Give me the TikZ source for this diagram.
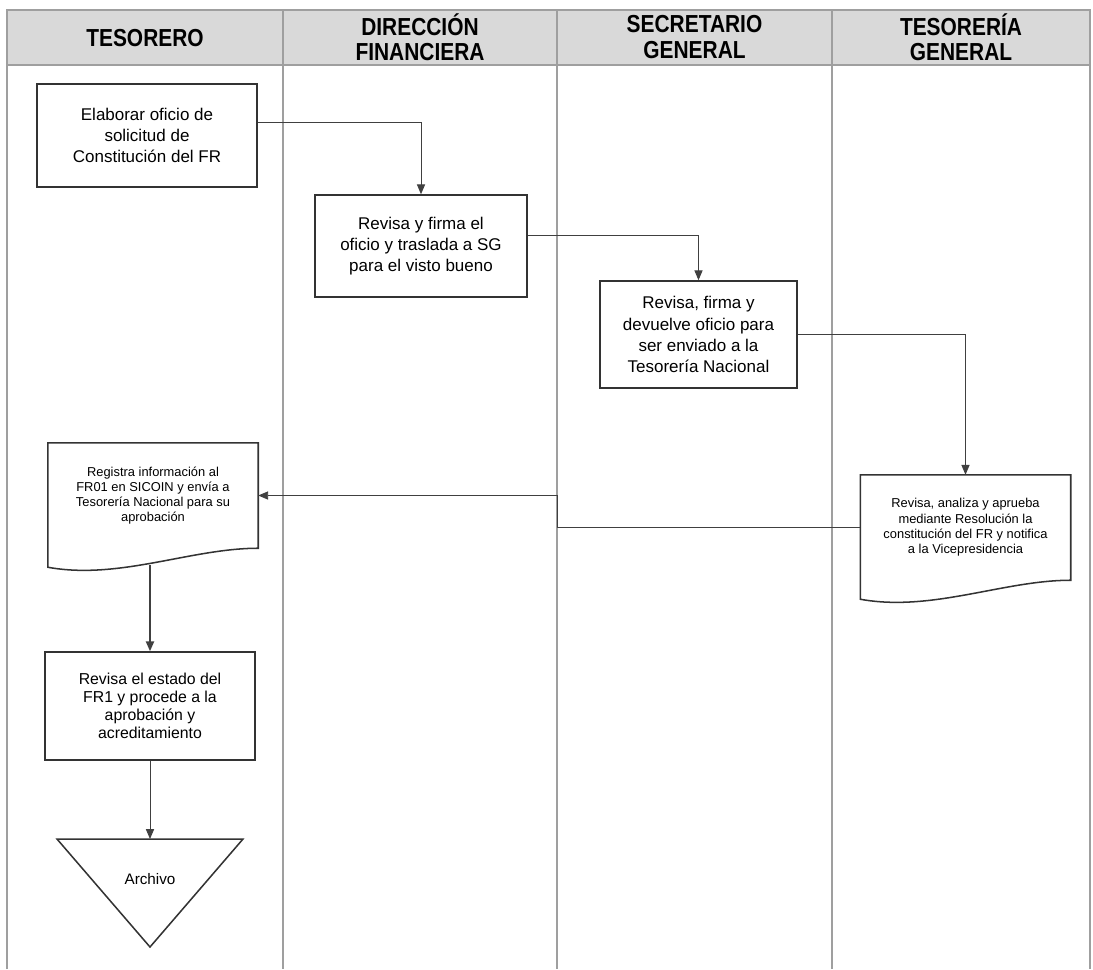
\documentclass[tikz,border=0pt]{standalone}
\usepackage{fontspec}
\setmainfont{Liberation Sans}
\newfontfamily\lanefont[FakeStretch=0.85]{Liberation Sans}
\usetikzlibrary{arrows.meta,calc}

\newcommand\docoutline[1]{\draw[draw=black!80,line width=1.3pt] (#1.north west) -- (#1.north east) -- (#1.south east)
    .. controls ($(#1.south east)!0.32!(#1.south west)$) and ($(#1.south east)!0.66!(#1.south west)+(0,32)$) .. ($(#1.south west)+(0,19)$) -- cycle;}

\begin{document}
\begin{tikzpicture}
    [x=0.03cm,y=-0.03cm,
    lane/.style={draw=gray!75,line width=1pt},
    lanehead/.style={font=\lanefont\bfseries\fontsize{21}{21.5}\selectfont,align=center},
    process/.style={draw=black!80,line width=1.3pt,align=center,inner sep=0pt,font=\fontsize{14.5}{18}\selectfont},
    docbox/.style={align=center,inner sep=0pt,minimum width=6.3cm,minimum height=3.15cm,font=\fontsize{11}{13}\selectfont},
    flow/.style={draw=black!75,line width=0.8pt,-{Triangle[length=8.5pt,width=7pt]}}]

    \useasboundingbox (0,0) rectangle (1093,969);
    \draw[lane,fill=gray!30] (7,10) rectangle (1090,65);
    \draw[lane] (7,969) -- (7,10) -- (1090,10) -- (1090,969);
    \foreach \x in {283,557,832}
        \draw[lane] (\x,10) -- (\x,969);

    \node[lanehead] (hteso) at (145,38) {TESORERO};
    \node[lanehead] (hdf) at (420,37) {DIRECCIÓN\\FINANCIERA};
    \node[lanehead] (hsg) at (694.5,37) {SECRETARIO\\GENERAL};
    \node[lanehead] (htg) at (961,37) {TESORERÍA\\GENERAL};

    \node[process,minimum width=6.6cm,minimum height=3.09cm] (elab) at (147,135.5) {Elaborar oficio de\\solicitud de\\Constitución del FR};
    \node[process,minimum width=6.36cm,minimum height=3.06cm] (revdf) at (421,246) {Revisa y firma el\\oficio y traslada a SG\\para el visto bueno};
    \node[process,minimum width=5.91cm,minimum height=3.21cm] (revsg) at (698.5,334.5) {Revisa, firma y\\devuelve oficio para\\ser enviado a la\\Tesorería Nacional};
    \node[docbox] (aprueba) at (965.5,527.5) {Revisa, analiza y aprueba\\mediante Resolución la\\constitución del FR y notifica\\a la Vicepresidencia};
    \docoutline{aprueba}
    \node[docbox] (regis) at (153,495.5) {Registra información al\\FR01 en SICOIN y envía a\\Tesorería Nacional para su\\aprobación};
    \docoutline{regis}
    \node[process,minimum width=6.3cm,minimum height=3.24cm,font=\fontsize{13.5}{15.5}\selectfont] (estado) at (150,706) {Revisa el estado del\\FR1 y procede a la\\aprobación y\\acreditamiento};

    \coordinate (arctop) at (150,839);
    \draw[draw=black!80,line width=1.3pt] (57,839) -- (243,839) -- (150,947) -- cycle;
    \node[font=\fontsize{13}{15}\selectfont] (archivo) at (150,879) {Archivo};

    \coordinate (cruce) at (557,0);
    \coordinate (regbot) at ($(regis.south)+(0,17)$);
    \draw[flow] ([yshift=0.4cm]elab.east) -| (revdf.north);
    \draw[flow] ([yshift=0.33cm]revdf.east) -| (revsg.north);
    \draw[flow] (revsg.east) -| (aprueba.north);
    \draw[flow] (aprueba.west) -| (cruce |- regis.east) -- (regis.east);
    \draw[flow,line width=1.5pt] (regbot -| estado.north) -- (estado.north);
    \draw[flow] (estado.south) -- (arctop);
\end{tikzpicture}
\end{document}
